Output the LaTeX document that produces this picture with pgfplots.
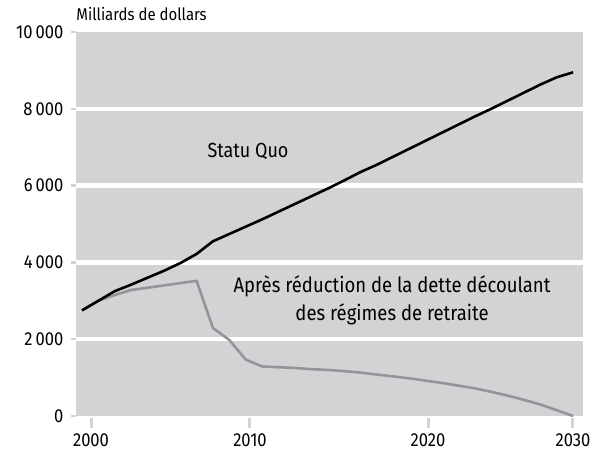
\documentclass[border=0pt]{standalone}
\usepackage{fontspec}
\setmainfont[FakeStretch=0.88]{Fira Sans}
\usepackage{pgfplots}
\pgfplotsset{compat=1.18}
\definecolor{bggrey}{RGB}{210,211,213}
\definecolor{linegrey}{RGB}{147,149,152}

% year, statu quo, apres reduction (milliards de dollars)
\pgfplotstableread{
year sq apres
2000 2750 2750
2001 3000 3000
2002 3250 3150
2003 3420 3280
2004 3600 3340
2005 3780 3400
2006 3980 3460
2007 4220 3520
2008 4550 2290
2009 4740 1980
2010 4930 1470
2011 5120 1290
2012 5320 1270
2013 5520 1250
2014 5720 1220
2015 5920 1200
2016 6130 1170
2017 6350 1130
2018 6540 1080
2019 6750 1030
2020 6960 980
2021 7170 920
2022 7380 860
2023 7590 790
2024 7800 720
2025 8000 630
2026 8210 530
2027 8420 420
2028 8630 300
2029 8820 150
2030 8950 0
}\dettes

\begin{document}
\begin{tikzpicture}
\path[use as bounding box] (-38pt,-18.5pt) rectangle (264.5pt,208pt);
\begin{axis}[
  at={(0,0)}, anchor=south west,
  scale only axis, width=253.5pt, height=192pt,
  xmin=1999.633, xmax=2030.605, ymin=0, ymax=10000,
  scaled x ticks=false, scaled y ticks=false,
  axis background/.style={fill=bggrey},
  axis line style={draw=none},
  tick align=outside,
  xtick={2000.55,2010.26,2021.14,2029.99},
  xticklabels={2000,2010,2020,2030},
  ytick={2000,4000,6000,8000},
  yticklabels={2\,000,4\,000,6\,000,8\,000},
  extra y ticks={0,10000},
  extra y tick labels={0,10\,000},
  extra y tick style={grid=none},
  ymajorgrids, grid style={white, line width=2.2pt},
  xtick pos=bottom, ytick pos=left,
  xtick style={draw=bggrey, line width=1.5pt, /pgfplots/major tick length=5pt, yshift=-1pt},
  ytick style={draw=bggrey, line width=1.2pt, /pgfplots/major tick length=2.5pt},
  ticklabel style={font=\fontsize{9.4}{11}\selectfont, text=black},
  xticklabel style={yshift=-1pt},
  yticklabel style={xshift=1.5pt},
  clip=false,
]
  \addplot[linegrey, line width=1.3pt, line join=round] table[x=year, y=apres] {\dettes};
  \addplot[black, line width=1.3pt, line join=round] table[x=year, y=sq] {\dettes};
  \node[font=\fontsize{10.2}{13}\selectfont] at (axis cs:2010.14,6880) {Statu Quo};
  \node[font=\fontsize{10.5}{14}\selectfont, align=center] at (axis cs:2018.94,3015)
    {Après réduction de la dette découlant\\des régimes de retraite};
  \node[font=\fontsize{8.5}{10}\selectfont, anchor=base west, inner sep=0pt]
    at (rel axis cs:0,1) [yshift=5.5pt] {Milliards de dollars};
\end{axis}
\end{tikzpicture}
\end{document}
